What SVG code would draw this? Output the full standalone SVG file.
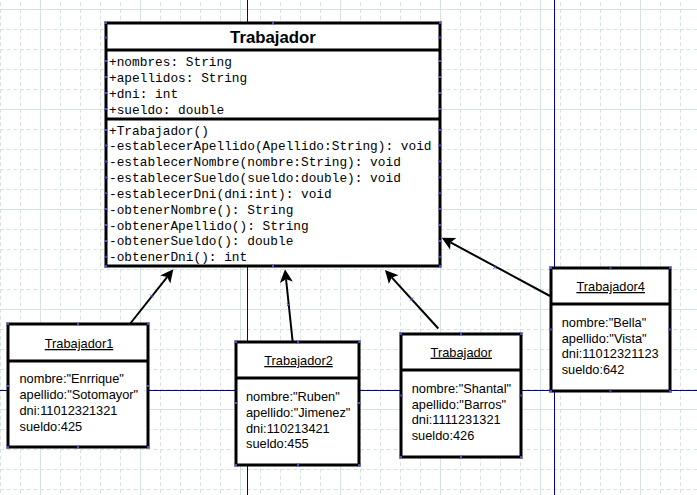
<svg xmlns="http://www.w3.org/2000/svg" xmlns:xlink="http://www.w3.org/1999/xlink" width="697" height="495" viewBox="0 0 697 495">
<style>
.box{fill:#fff;stroke:#000;stroke-width:3}
.div{stroke:#000;stroke-width:3}
.ctitle{font-family:"Liberation Sans",Arial,sans-serif;font-weight:bold;font-size:16.8px;text-anchor:middle;fill:#000}
.mono{font-family:"Liberation Mono","Courier New",monospace;font-size:12.8px;fill:#000}
.otitle{font-family:"Liberation Sans",Arial,sans-serif;font-size:12.8px;text-anchor:middle;text-decoration:underline;fill:#000}
.otext{font-family:"Liberation Sans",Arial,sans-serif;font-size:12.8px;fill:#000}
.conn{stroke:#000;stroke-width:2;fill:none;marker-end:url(#arrow)}
.guide{stroke:#0000a8;stroke-width:1;fill:none}
.gmaj{stroke:#d5e4e1;stroke-width:1}
.gmin{stroke:#d5e4e1;stroke-width:1;stroke-dasharray:4 2.6667}
</style>
<defs>
<pattern id="grid" patternUnits="userSpaceOnUse" x="40" y="9" width="100" height="100">
<line class="gmin" x1="20.5" y1="0" x2="20.5" y2="100"/>
<line class="gmin" x1="40.5" y1="0" x2="40.5" y2="100"/>
<line class="gmin" x1="60.5" y1="0" x2="60.5" y2="100"/>
<line class="gmin" x1="80.5" y1="0" x2="80.5" y2="100"/>
<line class="gmin" x1="0" y1="20.5" x2="100" y2="20.5"/>
<line class="gmin" x1="0" y1="40.5" x2="100" y2="40.5"/>
<line class="gmin" x1="0" y1="60.5" x2="100" y2="60.5"/>
<line class="gmin" x1="0" y1="80.5" x2="100" y2="80.5"/>
<line class="gmaj" x1="0.5" y1="0" x2="0.5" y2="100"/>
<line class="gmaj" x1="0" y1="0.5" x2="100" y2="0.5"/>
</pattern>
<marker id="arrow" viewBox="0 -7 13 14" markerWidth="13" markerHeight="14" refX="3" refY="0" orient="auto" markerUnits="userSpaceOnUse">
<path d="M13,0 L0,-6.5 L3,0 L0,6.5 Z" fill="#000"/>
</marker>
<path id="xm" d="M-1.5,-1.5 L1.5,1.5 M-1.5,1.5 L1.5,-1.5" stroke="#4a4ad8" stroke-width="1" fill="none"/>
</defs>
<rect width="697" height="495" fill="#fff"/>
<rect width="697" height="495" fill="url(#grid)"/>
<g id="guides">
<line class="guide" x1="247.5" y1="0" x2="247.5" y2="495"/>
<line class="guide" x1="554.5" y1="0" x2="554.5" y2="495"/>
<line class="guide" x1="0" y1="390.5" x2="697" y2="390.5"/>
</g>
<g id="connectors">
<line class="conn" x1="129.5" y1="324.5" x2="167.1" y2="277.1"/>
<line class="conn" x1="292.7" y1="342" x2="286.05" y2="279.25"/>
<line class="conn" x1="438.3" y1="328.5" x2="391.7" y2="277.4"/>
<line class="conn" x1="550" y1="296" x2="450.5" y2="242.4"/>
<use href="#xm" x="151.7" y="296"/>
<use href="#xm" x="288.3" y="304.7"/>
<use href="#xm" x="411.7" y="299"/>
<use href="#xm" x="495" y="267.3"/>
</g>
<g id="class-Trabajador">
<rect class="box" x="106" y="23" width="334" height="243"/>
<line class="div" x1="106" y1="50" x2="440" y2="50"/>
<line class="div" x1="106" y1="119" x2="440" y2="119"/>
<text class="ctitle" x="273" y="43">Trabajador</text>
<text class="mono" x="109" y="65.5">+nombres: String</text>
<text class="mono" x="109" y="81.5">+apellidos: String</text>
<text class="mono" x="109" y="97.5">+dni: int</text>
<text class="mono" x="109" y="113.5">+sueldo: double</text>
<text class="mono" x="109" y="134.5">+Trabajador()</text>
<text class="mono" x="109" y="150.3">-establecerApellido(Apellido:String): void</text>
<text class="mono" x="109" y="166.2">-establecerNombre(nombre:String): void</text>
<text class="mono" x="109" y="182">-establecerSueldo(sueldo:double): void</text>
<text class="mono" x="109" y="197.9">-establecerDni(dni:int): void</text>
<text class="mono" x="109" y="213.7">-obtenerNombre(): String</text>
<text class="mono" x="109" y="229.6">-obtenerApellido(): String</text>
<text class="mono" x="109" y="245.4">-obtenerSueldo(): double</text>
<text class="mono" x="109" y="261.2">-obtenerDni(): int</text>
<use href="#xm" x="106" y="23"/><use href="#xm" x="273" y="23"/><use href="#xm" x="440" y="23"/>
<use href="#xm" x="106" y="266"/><use href="#xm" x="273" y="266"/><use href="#xm" x="440" y="266"/>
<use href="#xm" x="106" y="37.5"/><use href="#xm" x="440" y="37.5"/>
<use href="#xm" x="106" y="61"/><use href="#xm" x="440" y="61"/>
<use href="#xm" x="106" y="77"/><use href="#xm" x="440" y="77"/>
<use href="#xm" x="106" y="93"/><use href="#xm" x="440" y="93"/>
<use href="#xm" x="106" y="109"/><use href="#xm" x="440" y="109"/>
<use href="#xm" x="106" y="130"/><use href="#xm" x="440" y="130"/>
<use href="#xm" x="106" y="145.5"/><use href="#xm" x="440" y="145.5"/>
<use href="#xm" x="106" y="161.5"/><use href="#xm" x="440" y="161.5"/>
<use href="#xm" x="106" y="177.5"/><use href="#xm" x="440" y="177.5"/>
<use href="#xm" x="106" y="193.3"/><use href="#xm" x="440" y="193.3"/>
<use href="#xm" x="106" y="209"/><use href="#xm" x="440" y="209"/>
<use href="#xm" x="106" y="225"/><use href="#xm" x="440" y="225"/>
<use href="#xm" x="106" y="241"/><use href="#xm" x="440" y="241"/>
<use href="#xm" x="106" y="256.7"/><use href="#xm" x="440" y="256.7"/>
</g>
<g id="obj-Trabajador1">
<rect class="box" x="8" y="324" width="140" height="123"/>
<line class="div" x1="8" y1="361" x2="148" y2="361"/>
<text class="otitle" x="79" y="348">Trabajador1</text>
<text class="otext" x="19.5" y="383.3">nombre:"Enrrique"</text>
<text class="otext" x="19.5" y="399.1">apellido:"Sotomayor"</text>
<text class="otext" x="19.5" y="414.9">dni:11012321321</text>
<text class="otext" x="19.5" y="430.7">sueldo:425</text>
<use href="#xm" x="8" y="324"/><use href="#xm" x="78" y="324"/><use href="#xm" x="148" y="324"/>
<use href="#xm" x="8" y="447"/><use href="#xm" x="78" y="447"/><use href="#xm" x="148" y="447"/>
<use href="#xm" x="8" y="386"/><use href="#xm" x="148" y="386"/>
</g>
<g id="obj-Trabajador2">
<rect class="box" x="236" y="342" width="123" height="123"/>
<line class="div" x1="236" y1="378" x2="359" y2="378"/>
<text class="otitle" x="298.5" y="365">Trabajador2</text>
<text class="otext" x="246" y="401">nombre:"Ruben"</text>
<text class="otext" x="246" y="416.8">apellido:"Jimenez"</text>
<text class="otext" x="246" y="432.6">dni:110213421</text>
<text class="otext" x="246" y="448.4">sueldo:455</text>
<use href="#xm" x="236" y="342"/><use href="#xm" x="298" y="342"/><use href="#xm" x="359" y="342"/>
<use href="#xm" x="236" y="465"/><use href="#xm" x="298" y="465"/><use href="#xm" x="359" y="465"/>
<use href="#xm" x="236" y="403"/><use href="#xm" x="359" y="403"/>
</g>
<g id="obj-Trabajador3">
<rect class="box" x="401" y="334" width="120" height="123"/>
<line class="div" x1="401" y1="370" x2="521" y2="370"/>
<text class="otitle" x="461.3" y="356.7">Trabajador</text>
<text class="otext" x="411.7" y="392.7">nombre:"Shantal"</text>
<text class="otext" x="411.7" y="408.5">apellido:"Barros"</text>
<text class="otext" x="411.7" y="424.3">dni:1111231321</text>
<text class="otext" x="411.7" y="440.1">sueldo:426</text>
<use href="#xm" x="401" y="334"/><use href="#xm" x="461" y="334"/><use href="#xm" x="521" y="334"/>
<use href="#xm" x="401" y="457"/><use href="#xm" x="461" y="457"/><use href="#xm" x="521" y="457"/>
<use href="#xm" x="401" y="395.5"/><use href="#xm" x="521" y="395.5"/>
</g>
<g id="obj-Trabajador4">
<rect class="box" x="551" y="268" width="119" height="123"/>
<line class="div" x1="551" y1="304" x2="670" y2="304"/>
<text class="otitle" x="610.7" y="291">Trabajador4</text>
<text class="otext" x="561.7" y="326.7">nombre:"Bella"</text>
<text class="otext" x="561.7" y="342.5">apellido:"Vista"</text>
<text class="otext" x="561.7" y="358.3">dni:11012321123</text>
<text class="otext" x="561.7" y="374.1">sueldo:642</text>
<use href="#xm" x="551" y="268"/><use href="#xm" x="610.5" y="268"/><use href="#xm" x="670" y="268"/>
<use href="#xm" x="551" y="391"/><use href="#xm" x="610.5" y="391"/><use href="#xm" x="670" y="391"/>
<use href="#xm" x="551" y="329.5"/><use href="#xm" x="670" y="329.5"/>
</g>
</svg>
